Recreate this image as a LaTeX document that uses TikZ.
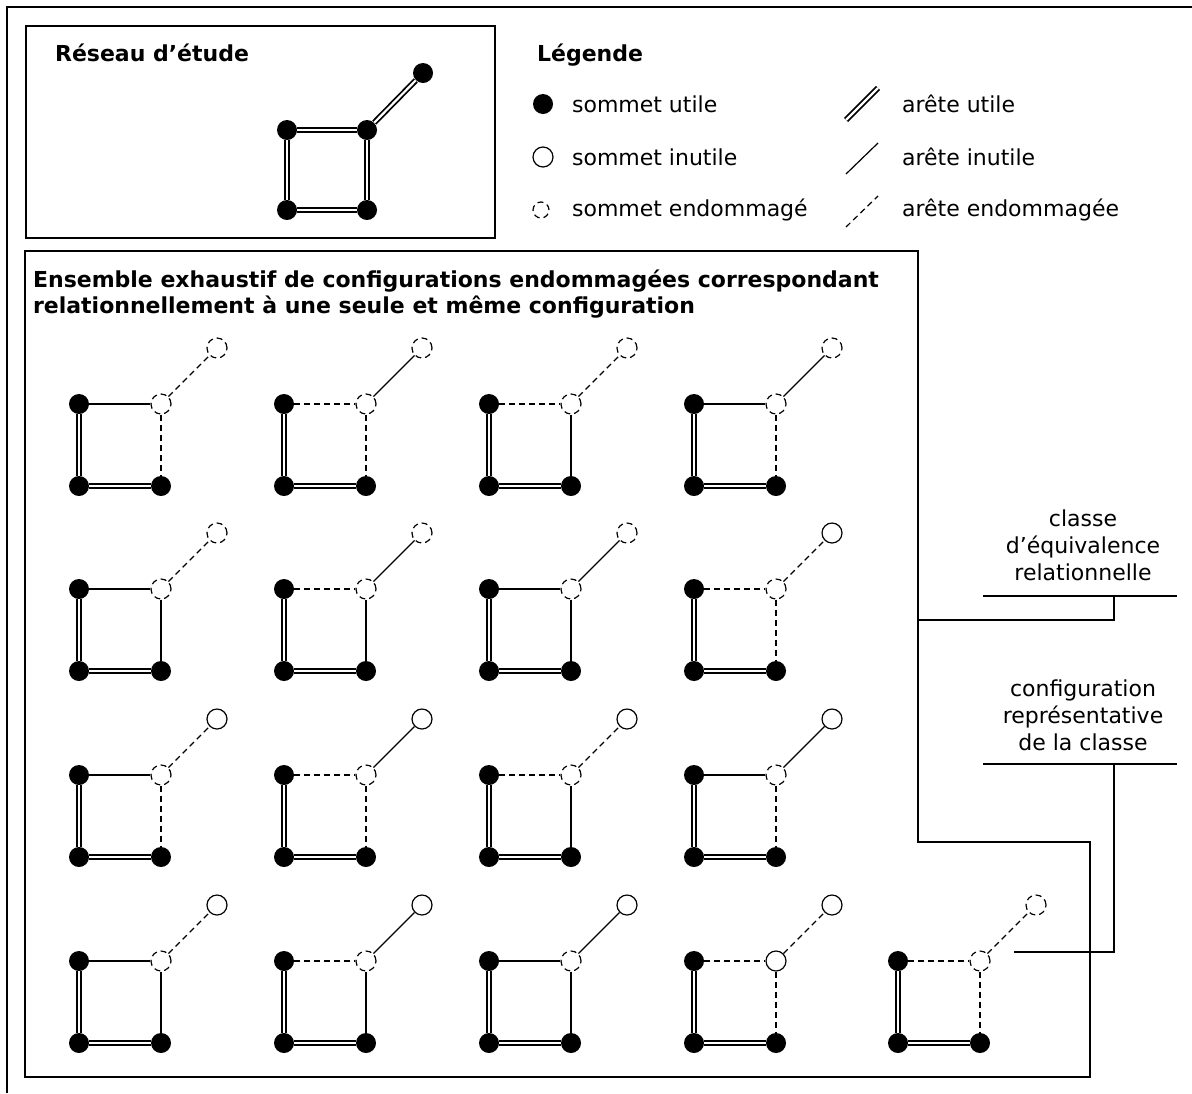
\documentclass[tikz,border=0pt]{standalone}
\usepackage{fontspec}
\setmainfont{DejaVu Sans}
\begin{document}
\begin{tikzpicture}[x=0.5pt, y=-0.5pt,
    sutile/.style={circle, fill, inner sep=0pt, minimum size=10pt},
    sinutile/.style={circle, draw, fill=white, line width=0.6pt, inner sep=0pt, minimum size=10pt},
    sendo/.style={circle, draw, fill=white, line width=0.6pt, dash pattern=on 3pt off 2pt, inner sep=0pt, minimum size=10pt},
    autile/.style={draw, line width=0.9pt, double, double distance=1.1pt},
    ainutile/.style={draw, line width=0.6pt},
    aendo/.style={draw, line width=0.6pt, dash pattern=on 3pt off 2pt},
    titre/.style={font=\bfseries\fontsize{11}{13}\selectfont, anchor=west},
    lbl/.style={font=\fontsize{11}{13.5}\selectfont, anchor=west},
    note/.style={font=\fontsize{11}{13.5}\selectfont, align=center}]
  \useasboundingbox (0,0) rectangle (1192,1093);
  % cadres
  \draw[line width=0.75pt] (7,1093) -- (7,7) -- (1192,7);
  \draw[line width=0.75pt] (26,26) rectangle (495,238);
  \draw[line width=0.75pt] (25,251) -- (918,251) -- (918,842) -- (1090,842) -- (1090,1077) -- (25,1077) -- cycle;

  % reseau d'etude
  \node[titre] (reseau) at (48,53) {Réseau d’étude};
  \node[sutile] (rtl) at (287,130) {};
  \node[sutile] (rtr) at (367,130) {};
  \node[sutile] (rbl) at (287,210) {};
  \node[sutile] (rbr) at (367,210) {};
  \node[sutile] (rp) at (423,73) {};
  \draw[autile] (rtl) -- (rtr);
  \draw[autile] (rtl) -- (rbl);
  \draw[autile] (rbl) -- (rbr);
  \draw[autile] (rtr) -- (rbr);
  \draw[autile] (rtr) -- (rp);

  % legende
  \node[titre] (legende) at (530,55) {Légende};
  \node[sutile] (lsu) at (543,104) {};
  \node[sinutile] (lsi) at (543,157) {};
  \node[sendo, minimum size=8pt] (lse) at (541,210) {};
  \node[lbl] (tsu) at (565,104) {sommet utile};
  \node[lbl] (tsi) at (565,157) {sommet inutile};
  \node[lbl] (tse) at (565,210) {sommet endommagé};
  \coordinate (au1) at (846,120); \coordinate (au2) at (878,88);
  \coordinate (ai1) at (846,174); \coordinate (ai2) at (878,143);
  \coordinate (ae1) at (846,227); \coordinate (ae2) at (878,196);
  \draw[autile] (au1) -- (au2);
  \draw[ainutile] (ai1) -- (ai2);
  \draw[aendo] (ae1) -- (ae2);
  \node[lbl] (tau) at (895,104) {arête utile};
  \node[lbl] (tai) at (895,157) {arête inutile};
  \node[lbl] (tae) at (895,210) {arête endommagée};

  % configurations endommagees
  \node[font=\bfseries\fontsize{11}{13}\selectfont, align=left, anchor=west] (ensemble) at (26,294)
    {Ensemble exhaustif de configurations endommagées correspondant\\relationnellement à une seule et même configuration};
  \foreach \c/\px/\py/\s/\p/\ea/\eb/\ec in {
      1/79/404/sendo/sendo/ainutile/aendo/aendo,
      2/284/404/sendo/sendo/aendo/aendo/ainutile,
      3/489/404/sendo/sendo/aendo/ainutile/aendo,
      4/694/404/sendo/sendo/ainutile/aendo/ainutile,
      5/79/589/sendo/sendo/ainutile/ainutile/aendo,
      6/284/589/sendo/sendo/aendo/ainutile/ainutile,
      7/489/589/sendo/sendo/ainutile/ainutile/ainutile,
      8/694/589/sendo/sinutile/aendo/aendo/aendo,
      9/79/775/sendo/sinutile/ainutile/aendo/aendo,
      10/284/775/sendo/sinutile/aendo/aendo/ainutile,
      11/489/775/sendo/sinutile/aendo/ainutile/aendo,
      12/694/775/sendo/sinutile/ainutile/aendo/ainutile,
      13/79/961/sendo/sinutile/ainutile/ainutile/aendo,
      14/284/961/sendo/sinutile/aendo/ainutile/ainutile,
      15/489/961/sendo/sinutile/ainutile/ainutile/ainutile,
      16/694/961/sinutile/sinutile/aendo/aendo/aendo,
      17/898/961/sendo/sendo/aendo/aendo/aendo}{
    \node[sutile] (tl\c) at (\px,\py) {};
    \node[sutile] (bl\c) at (\px,\py+82) {};
    \node[sutile] (br\c) at (\px+82,\py+82) {};
    \node[\s] (tr\c) at (\px+82,\py) {};
    \node[\p] (p\c) at (\px+138,\py-56) {};
    \draw[autile] (tl\c) -- (bl\c);
    \draw[autile] (bl\c) -- (br\c);
    \draw[\ea] (tl\c) -- (tr\c);
    \draw[\eb] (tr\c) -- (br\c);
    \draw[\ec] (tr\c) -- (p\c);
  }

  % classes
  \node[note] (classe) at (1083,545) {classe\\d’équivalence\\relationnelle};
  \coordinate (cl1) at (983,596); \coordinate (cl2) at (1177,596);
  \coordinate (cl3) at (1114,596); \coordinate (cl4) at (918,620);
  \draw[line width=0.6pt] (cl1) -- (cl2);
  \draw[line width=0.6pt] (cl3) |- (cl4);
  \node[note] (repr) at (1083,715) {configuration\\représentative\\de la classe};
  \coordinate (rp1) at (983,764); \coordinate (rp2) at (1177,764);
  \coordinate (rp3) at (1114,764); \coordinate (rp4) at (1014,952);
  \draw[line width=0.6pt] (rp1) -- (rp2);
  \draw[line width=0.6pt] (rp3) |- (rp4);
\end{tikzpicture}
\end{document}
